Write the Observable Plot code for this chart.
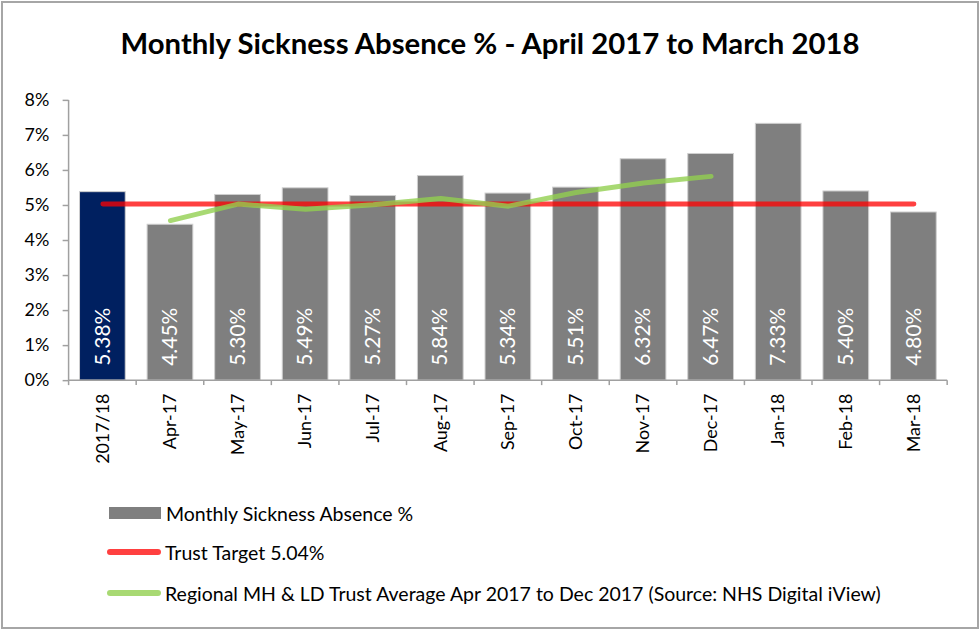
<!DOCTYPE html>
<html>
<head>
<meta charset="utf-8">
<script src="https://cdn.jsdelivr.net/npm/d3@7"></script>
<script src="https://cdn.jsdelivr.net/npm/@observablehq/plot@0.6"></script>
<style>
  html, body { margin: 0; padding: 0; background: #fff; }
  #frame { position: absolute; left: 1px; top: 1px; width: 974px; height: 624px; border: 2px solid #a6a6a6; background: #fff; font-family: Lato, "Open Sans", sans-serif; }
  #title { position: absolute; left: 0; top: 22px; width: 100%; text-align: center; font-weight: bold; font-size: 29.3px; color: #000; }
  #chart { position: absolute; left: -3px; top: 77px; }
  .leg { position: absolute; left: 104px; height: 24px; font-size: 19.5px; color: #000; display: flex; align-items: center; white-space: nowrap; }
  .sw { width: 54px; margin-right: 4px; }
</style>
</head>
<body>
<div id="frame">
  <div id="title">Monthly Sickness Absence % - April 2017 to March 2018</div>
  <div id="chart"></div>
  <div class="leg" style="top:498px;left:106px"><div class="sw" style="width:52px;height:12px;background:#7f7f7f;margin-right:5px"></div>Monthly Sickness Absence %</div>
  <div class="leg" style="top:537px"><div class="sw" style="height:6px;border-radius:3px;background:rgba(255,0,0,0.75)"></div>Trust Target 5.04%</div>
  <div class="leg" style="top:578px"><div class="sw" style="height:6px;border-radius:3px;background:rgba(146,208,80,0.8)"></div>Regional MH &amp; LD Trust Average Apr 2017 to Dec 2017 (Source: NHS Digital iView)</div>
</div>
<script>
const categories = ["2017/18","Apr-17","May-17","Jun-17","Jul-17","Aug-17","Sep-17","Oct-17","Nov-17","Dec-17","Jan-18","Feb-18","Mar-18"];
const absence = [5.38, 4.45, 5.30, 5.49, 5.27, 5.84, 5.34, 5.51, 6.32, 6.47, 7.33, 5.40, 4.80];
const trustTarget = 5.04;
const regionalMonths = ["Apr-17","May-17","Jun-17","Jul-17","Aug-17","Sep-17","Oct-17","Nov-17","Dec-17"];
const regionalAvg = [4.57, 5.04, 4.89, 5.02, 5.20, 4.98, 5.37, 5.64, 5.83];
const yTicks = [0,1,2,3,4,5,6,7,8];

const bars = categories.map((c, i) => ({cat: c, value: absence[i], first: i === 0}));
const target = categories.map(c => ({cat: c, value: trustTarget}));
const regional = regionalMonths.map((c, i) => ({cat: c, value: regionalAvg[i]}));

function axisLines(index, scales, values, dims) {
  const x = scales.x, y = scales.y;
  const step = x.step(), bw = x.bandwidth();
  const y0 = y(0);
  const g = d3.create("svg:g").attr("stroke", "#a0a0a0").attr("stroke-width", 1.5);
  const pos = categories.map(c => x(c) + bw / 2 - step / 2);
  pos.push(x(categories[categories.length - 1]) + bw / 2 + step / 2);
  g.append("line").attr("x1", pos[0]).attr("x2", pos[pos.length - 1]).attr("y1", y0).attr("y2", y0);
  for (const p of pos) {
    g.append("line").attr("x1", p).attr("x2", p).attr("y1", y0).attr("y2", y0 + 5);
  }
  g.append("line").attr("x1", pos[0]).attr("x2", pos[0]).attr("y1", y(8)).attr("y2", y0);
  return g.node();
}

const chart = Plot.plot({
  width: 983,
  height: 400,
  marginTop: 20,
  marginBottom: 98,
  marginLeft: 69,
  marginRight: 30,
  style: {fontFamily: "Lato, 'Open Sans', sans-serif", background: "transparent", overflow: "visible"},
  x: {domain: categories, paddingInner: 0.32, paddingOuter: 0.16, label: null},
  y: {domain: [0, 8], label: null},
  marks: [
    Plot.barY(bars, {x: "cat", y: "value", fill: d => d.first ? "#002060" : "#7f7f7f", stroke: "#cfcfcf", strokeWidth: 1}),
    Plot.text(bars, {x: "cat", y: () => 0, text: d => d.value.toFixed(2) + "%", rotate: -90, textAnchor: "start", dy: -15, fill: "#fff", fontSize: 21}),
    Plot.line(target, {x: "cat", y: "value", stroke: "#ff0000", strokeOpacity: 0.75, strokeWidth: 5, strokeLinecap: "round"}),
    Plot.line(regional, {x: "cat", y: "value", stroke: "#92d050", strokeOpacity: 0.8, strokeWidth: 5, strokeLinecap: "round", strokeLinejoin: "round"}),
    Plot.axisY({ticks: yTicks, tickFormat: d => d + "%", tickSize: 6, tickPadding: 14, fontSize: 18, stroke: "#a0a0a0", strokeWidth: 1.5, color: "#000"}),
    Plot.axisX({tickSize: 0, tickPadding: 13, tickRotate: -90, fontSize: 18, color: "#000"}),
    axisLines
  ]
});
document.getElementById("chart").appendChild(chart);
</script>
</body>
</html>
